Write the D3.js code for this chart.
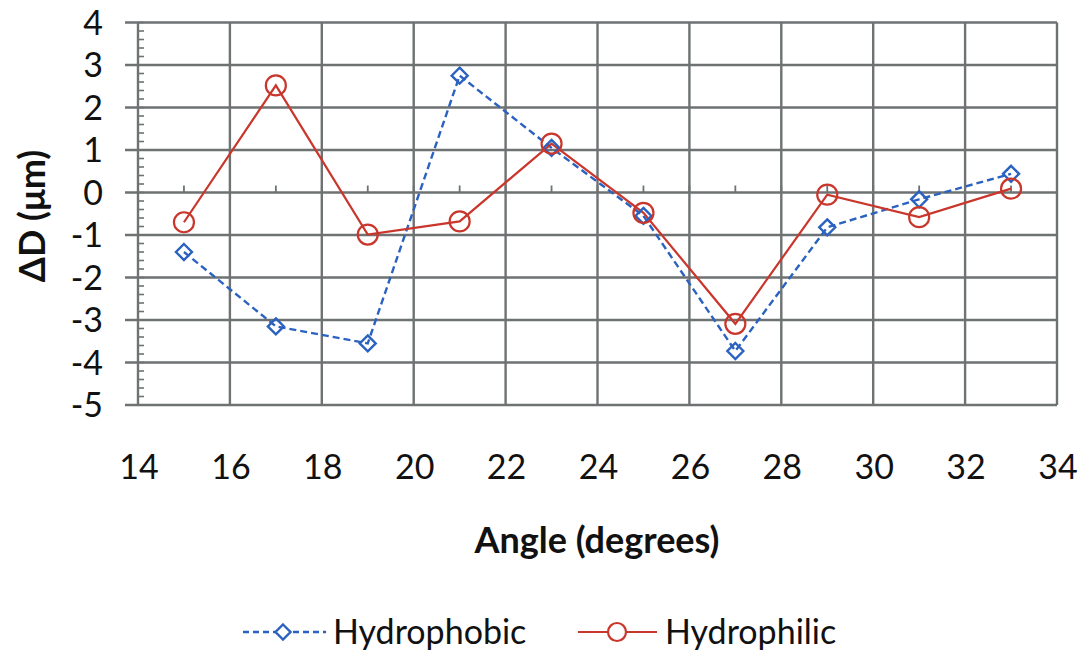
<!DOCTYPE html>
<html>
<head>
<meta charset="utf-8">
<script src="https://cdn.jsdelivr.net/npm/d3@7"></script>
<style>
  html, body { margin: 0; padding: 0; background: #fff; }
  svg { display: block; }
  text { font-family: Lato, "Open Sans", sans-serif; fill: #111; }
</style>
</head>
<body>
<svg id="chart" width="1083" height="653"></svg>
<script>
// ---- data ----
const angles = [15, 17, 19, 21, 23, 25, 27, 29, 31, 33];
const hydrophobic = [-1.4, -3.15, -3.55, 2.75, 1.05, -0.55, -3.73, -0.82, -0.16, 0.44];
const hydrophilic = [-0.7, 2.52, -0.99, -0.68, 1.15, -0.48, -3.09, -0.05, -0.58, 0.09];
const xTicks = [14, 16, 18, 20, 22, 24, 26, 28, 30, 32, 34];
const yTicks = [4, 3, 2, 1, 0, -1, -2, -3, -4, -5];
const seriesNames = ["Hydrophobic", "Hydrophilic"];

const svg = d3.select("#chart");
const pLeft = 138, pRight = 1057, pTop = 22.5, pBottom = 405;
const x = d3.scaleLinear().domain([14, 34]).range([pLeft, pRight]);
const y = d3.scaleLinear().domain([-5, 4]).range([pBottom, pTop]);

const gridColor = "#6e7272";
const blue = "#2b62c0";
const red = "#c9362c";

// gridlines
const grid = svg.append("g");
grid.selectAll("line.h").data(yTicks).join("line")
  .attr("x1", pLeft - 13).attr("x2", pRight)
  .attr("y1", d => y(d)).attr("y2", d => y(d))
  .attr("stroke", gridColor).attr("stroke-width", 2.4);
grid.selectAll("line.v").data(xTicks).join("line")
  .attr("x1", d => x(d)).attr("x2", d => x(d))
  .attr("y1", pTop).attr("y2", pBottom)
  .attr("stroke", gridColor).attr("stroke-width", 2.4);

// y axis minor ticks (inside)
const minor = d3.range(-5, 4.001, 0.2);
grid.append("g").selectAll("line").data(minor).join("line")
  .attr("x1", pLeft).attr("x2", pLeft + 6)
  .attr("y1", d => y(d)).attr("y2", d => y(d))
  .attr("stroke", gridColor).attr("stroke-width", 1.6);

// x axis at y=0 with small upward ticks every 1
const xMinor = d3.range(14, 34.001, 1);
grid.append("g").selectAll("line").data(xMinor).join("line")
  .attr("x1", d => x(d)).attr("x2", d => x(d))
  .attr("y1", y(0)).attr("y2", y(0) - 7)
  .attr("stroke", gridColor).attr("stroke-width", 1.8);

// tick labels
svg.append("g").selectAll("text").data(yTicks).join("text")
  .attr("x", 103).attr("y", d => y(d))
  .attr("dy", "0.36em")
  .attr("text-anchor", "end")
  .style("font-size", "34px")
  .text(d => d);
svg.append("g").selectAll("text").data(xTicks).join("text")
  .attr("x", d => x(d) + 1).attr("y", 479)
  .attr("text-anchor", "middle")
  .style("font-size", "34px")
  .text(d => d);

// axis titles
svg.append("text")
  .attr("x", 597).attr("y", 553)
  .attr("text-anchor", "middle")
  .style("font-size", "36px").style("font-weight", "bold")
  .text("Angle (degrees)");
svg.append("text")
  .attr("transform", "translate(45,216) rotate(-90)")
  .attr("text-anchor", "middle")
  .style("font-size", "36px").style("font-weight", "bold")
  .text("ΔD (μm)");

// lines
const line = d3.line().x(d => x(d[0])).y(d => y(d[1]));
const blueData = angles.map((a, i) => [a, hydrophobic[i]]);
const redData = angles.map((a, i) => [a, hydrophilic[i]]);

svg.append("path").datum(blueData)
  .attr("d", line).attr("fill", "none")
  .attr("stroke", blue).attr("stroke-width", 2.4)
  .attr("stroke-dasharray", "7,4");
svg.append("path").datum(redData)
  .attr("d", line).attr("fill", "none")
  .attr("stroke", red).attr("stroke-width", 2.2);

const diamond = s => `M0,${-s}L${s},0L0,${s}L${-s},0Z`;
svg.append("g").selectAll("path").data(blueData).join("path")
  .attr("transform", d => `translate(${x(d[0])},${y(d[1])})`)
  .attr("d", diamond(8))
  .attr("fill", "none").attr("stroke", blue).attr("stroke-width", 2.4);
svg.append("g").selectAll("circle").data(redData).join("circle")
  .attr("cx", d => x(d[0])).attr("cy", d => y(d[1])).attr("r", 10)
  .attr("fill", "none").attr("stroke", red).attr("stroke-width", 2.2);

// legend
const ly = 632;
const lg = svg.append("g");
lg.append("line").attr("x1", 243).attr("x2", 326).attr("y1", ly).attr("y2", ly)
  .attr("stroke", blue).attr("stroke-width", 2.4).attr("stroke-dasharray", "6,4");
lg.append("path").attr("transform", `translate(283,${ly})`).attr("d", diamond(7.5))
  .attr("fill", "#fff").attr("stroke", blue).attr("stroke-width", 2.4);
lg.append("text").attr("x", 333).attr("y", ly).attr("dy", "0.36em")
  .style("font-size", "34px").text(seriesNames[0]);
lg.append("line").attr("x1", 578).attr("x2", 657).attr("y1", ly).attr("y2", ly)
  .attr("stroke", red).attr("stroke-width", 2.2);
lg.append("circle").attr("cx", 617).attr("cy", ly).attr("r", 9)
  .attr("fill", "#fff").attr("stroke", red).attr("stroke-width", 2.2);
lg.append("text").attr("x", 665).attr("y", ly).attr("dy", "0.36em")
  .style("font-size", "34px").text(seriesNames[1]);
</script>
</body>
</html>
